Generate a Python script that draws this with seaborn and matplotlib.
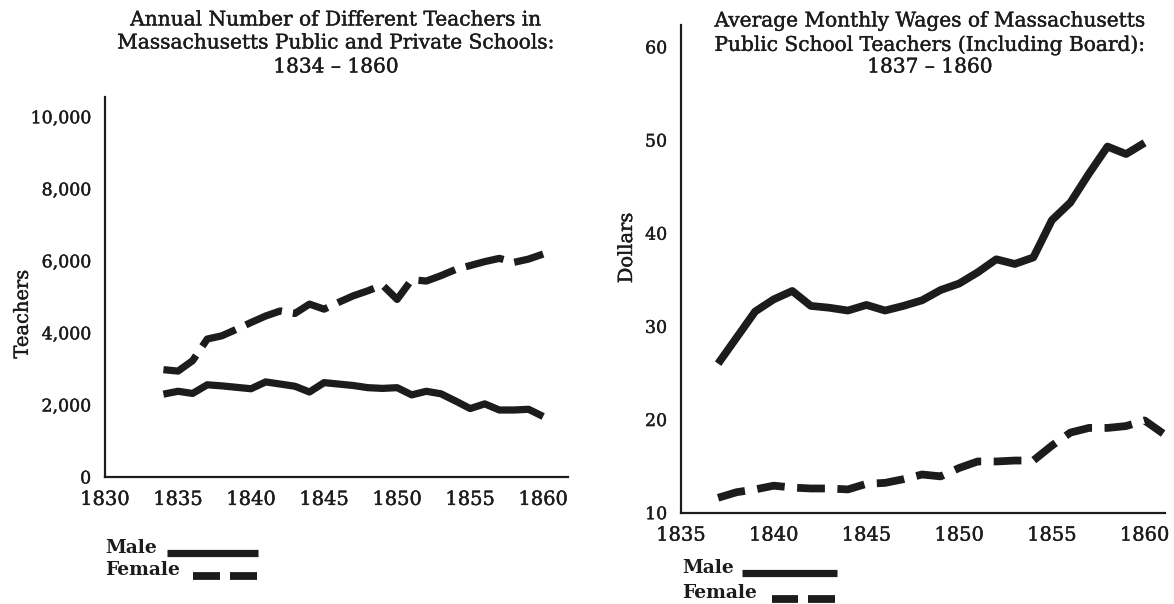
import matplotlib
matplotlib.use("Agg")  # no display in the sandbox
import matplotlib.pyplot as plt
import matplotlib.patheffects as pe
from matplotlib.lines import Line2D
from matplotlib.ticker import FuncFormatter
import pandas as pd
import seaborn as sns

# ── Data ───────────────────────────────────────────────────────────────────────
teacher_years = list(range(1834, 1861))
male_teachers = [2300, 2380, 2320, 2560, 2530, 2490, 2450, 2640, 2580, 2520,
                 2360, 2620, 2580, 2540, 2480, 2460, 2480, 2280, 2380, 2310,
                 2110, 1900, 2030, 1860, 1860, 1880, 1680]
female_teachers = [2980, 2940, 3230, 3830, 3920, 4100, 4290, 4470, 4610, 4540,
                   4800, 4660, 4850, 5030, 5170, 5330, 4930, 5480, 5440, 5590,
                   5760, 5870, 5980, 6070, 5960, 6050, 6190]

male_wage_years = list(range(1837, 1861))
male_wages = [26.0, 28.8, 31.6, 32.9, 33.8, 32.2, 32.0, 31.7, 32.3, 31.7,
              32.2, 32.8, 33.9, 34.6, 35.8, 37.2, 36.7, 37.4, 41.4, 43.3,
              46.4, 49.3, 48.5, 49.7]
female_wage_years = list(range(1837, 1862))
female_wages = [11.6, 12.2, 12.5, 12.9, 12.7, 12.6, 12.6, 12.5, 13.1, 13.2,
                13.6, 14.1, 13.9, 14.8, 15.5, 15.5, 15.6, 15.6, 17.2, 18.6,
                19.1, 19.1, 19.3, 19.9, 18.5]

left_title = ["Annual Number of Different Teachers in",
              "Massachusetts Public and Private Schools:",
              "1834 \u2013 1860"]
right_title = ["Average Monthly Wages of Massachusetts",
               "Public School Teachers (Including Board):",
               "1837 \u2013 1860"]
legend_labels = ["Male", "Female"]

teachers_df = pd.DataFrame({"year": teacher_years, "male": male_teachers,
                            "female": female_teachers})
wages_male_df = pd.DataFrame({"year": male_wage_years, "wage": male_wages})
wages_female_df = pd.DataFrame({"year": female_wage_years, "wage": female_wages})

# ── Style ──────────────────────────────────────────────────────────────────────
sns.set_theme(style="white")
plt.rcParams["font.family"] = ["DejaVu Serif", "DejaVu Sans"]
plt.rcParams["lines.scale_dashes"] = False
INK = "#1c1c1c"
HEAVY = [pe.withStroke(linewidth=0.3, foreground=INK)]  # scanned print looks a bit heavier
W, H = 1174, 604


def fx(px):
    return px / W


def fy(py):
    return 1 - py / H


fig = plt.figure(figsize=(W / 100, H / 100), dpi=100)
ax1 = fig.add_axes([fx(105), fy(477), fx(463), 380 / H])
ax2 = fig.add_axes([fx(681), fy(512.7), fx(484), (512.7 - 25) / H])

# ── Left: number of teachers ───────────────────────────────────────────────────
sns.lineplot(data=teachers_df, x="year", y="male", ax=ax1, color=INK,
             linewidth=5.2, solid_joinstyle="round", solid_capstyle="butt")
sns.lineplot(data=teachers_df, x="year", y="female", ax=ax1, color=INK,
             linewidth=5.2, linestyle=(0, (28, 8)), dash_capstyle="butt",
             dash_joinstyle="round")
ax1.set_xlim(1830, 1861.7)
ax1.set_ylim(0, 10550)
ax1.set_xticks(range(1830, 1861, 5))
ax1.set_yticks(range(0, 10001, 2000))
ax1.yaxis.set_major_formatter(FuncFormatter(lambda v, p: f"{int(v):,}"))
ax1.set_xlabel("")
ax1.set_ylabel("Teachers", fontsize=14, color=INK)
ax1.yaxis.set_label_coords(-0.158, 0.429)

# ── Right: monthly wages ───────────────────────────────────────────────────────
sns.lineplot(data=wages_male_df, x="year", y="wage", ax=ax2, color=INK,
             linewidth=5.6, solid_joinstyle="round", solid_capstyle="butt")
sns.lineplot(data=wages_female_df, x="year", y="wage", ax=ax2, color=INK,
             linewidth=5.6, linestyle=(0, (20, 9)), dash_capstyle="butt",
             dash_joinstyle="round")
ax2.set_xlim(1835, 1861.1)
ax2.set_ylim(10, 62.35)
ax2.set_xticks(range(1835, 1861, 5))
ax2.set_yticks(range(10, 61, 10))
ax2.set_xlabel("")
ax2.set_ylabel("Dollars", fontsize=14, color=INK)
ax2.yaxis.set_label_coords(-0.093, 0.543)

for ax in (ax1, ax2):
    for side in ("top", "right"):
        ax.spines[side].set_visible(False)
    for side in ("left", "bottom"):
        ax.spines[side].set_color(INK)
        ax.spines[side].set_linewidth(1.6)
    ax.tick_params(direction="inout", length=8, width=1.2, color=INK,
                   labelcolor=INK)
    ax.tick_params(axis="x", labelsize=14, pad=6)
    ax.tick_params(axis="y", labelsize=12.5, pad=6)
    for lab in ax.get_xticklabels() + ax.get_yticklabels() + [ax.yaxis.label]:
        lab.set_path_effects(HEAVY)

# ── Titles ─────────────────────────────────────────────────────────────────────
for line, y in zip(left_title, (20, 43, 67)):
    fig.text(fx(336), fy(y), line, ha="center", va="center", fontsize=14.5,
             color=INK, path_effects=HEAVY)
for line, y in zip(right_title, (21, 45, 67)):
    fig.text(fx(930), fy(y), line, ha="center", va="center", fontsize=14.5,
             color=INK, path_effects=HEAVY)


# ── Hand-drawn style keys below each panel ────────────────────────────────────
def draw_key(x_text, y_male, male_seg, y_female, female_segs):
    for label, y in zip(legend_labels, (y_male, y_female)):
        fig.text(fx(x_text), fy(y), label, ha="left", va="center",
                 fontsize=13.5, fontweight="bold", color=INK)
    fig.add_artist(Line2D([fx(male_seg[0]), fx(male_seg[1])],
                          [fy(y_male + 5)] * 2, color=INK, linewidth=5.2,
                          solid_capstyle="butt"))
    for a, b in female_segs:
        fig.add_artist(Line2D([fx(a), fx(b)], [fy(y_female + 6)] * 2,
                              color=INK, linewidth=5.6, solid_capstyle="butt"))


draw_key(105, 548, (167, 258), 570, [(193, 220), (230, 257)])
draw_key(682, 568, (742, 837), 593, [(772, 798), (808, 835)])

fig.savefig("out.png", dpi=100, facecolor="white")
